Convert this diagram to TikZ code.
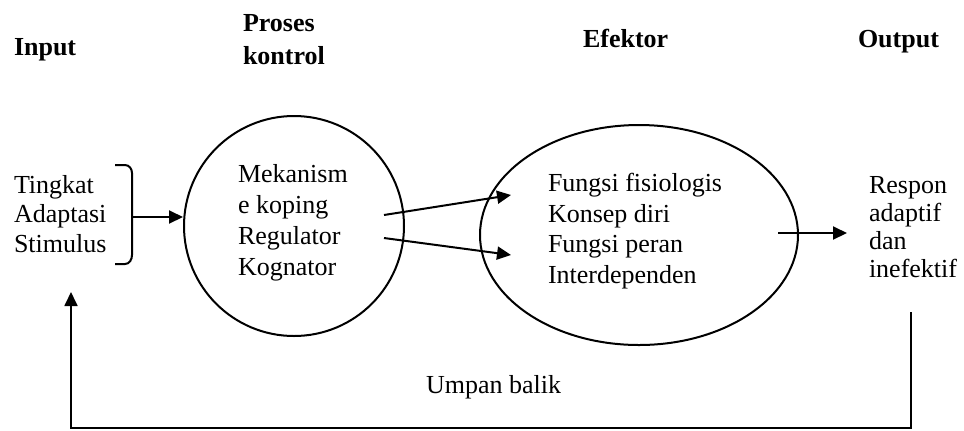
\documentclass[tikz,border=0pt]{standalone}
\usepackage{fontspec}
\setmainfont{Liberation Serif}
\usepackage{tikz}
\usetikzlibrary{shapes.geometric, arrows.meta, positioning, calc}

\tikzset{
  lbl/.style={font=\fontsize{13}{15}\selectfont, inner sep=0pt, align=left, anchor=base west},
  hdr/.style={lbl, font=\fontsize{13}{16.5}\selectfont\bfseries}
}

\begin{document}
\begin{tikzpicture}[x=0.5pt, y=-0.5pt, line width=1pt, >={Triangle[length=7pt, width=6.5pt]}]
        \useasboundingbox (0,0) rectangle (964,430);
        % Headings (anchored at the last baseline)
        \node[hdr] (input) at (13,55) {Input};
        \node[hdr] (proses) at (242,64) {Proses\\kontrol};
        \node[hdr] (efektor) at (582,47) {Efektor};
        \node[hdr] (output) at (857,47) {Output};
        % Input with bracket
        \node[lbl, font=\fontsize{13}{14.75}\selectfont] (stimulus) at (13,252) {Tingkat\\Adaptasi\\Stimulus};
        \draw (115,165) -- (125,165) to[out=0, in=90] (132,173) -- (132,255) to[out=-90, in=0] (125,264) -- (115,264);
        \coordinate (brace) at (132,217);
        % Control process and effector
        \node[draw, circle, minimum size=110pt, inner sep=0pt] (kontrol) at (294,226) {};
        \node[lbl, font=\fontsize{13}{15.5}\selectfont] (mekanisme) at (237,275) {Mekanism\\e koping\\Regulator\\Kognator};
        \node[draw, ellipse, minimum width=159pt, minimum height=110pt, inner sep=0pt] (efek) at (639,235) {};
        \node[lbl, font=\fontsize{13}{15.2}\selectfont] (fungsi) at (547,283) {Fungsi fisiologis\\Konsep diri\\Fungsi peran\\Interdependen};
        \node[lbl, font=\fontsize{13}{14}\selectfont] (respon) at (868,277) {Respon\\adaptif\\dan\\inefektif};
        \node[lbl] (umpan) at (425,393) {Umpan balik};
        % Arrows
        \coordinate (k1) at (384,215);
        \coordinate (k2) at (384,238);
        \coordinate (e1) at (511,195);
        \coordinate (e2) at (511,255);
        \coordinate (e3) at (778,233);
        \coordinate (r1) at (847,233);
        \draw[->] (brace) -- (brace -| kontrol.west);
        \draw[->] (k1) -- (e1);
        \draw[->] (k2) -- (e2);
        \draw[->] (e3) -- (r1);
        % Feedback loop
        \coordinate (fbtop) at (911,312);
        \coordinate (fbbot) at (911,428);
        \coordinate (fbend) at (71,292);
        \draw[line width=0.9pt, ->] (fbtop) -- (fbbot) -| (fbend);
    \end{tikzpicture}
\end{document}
